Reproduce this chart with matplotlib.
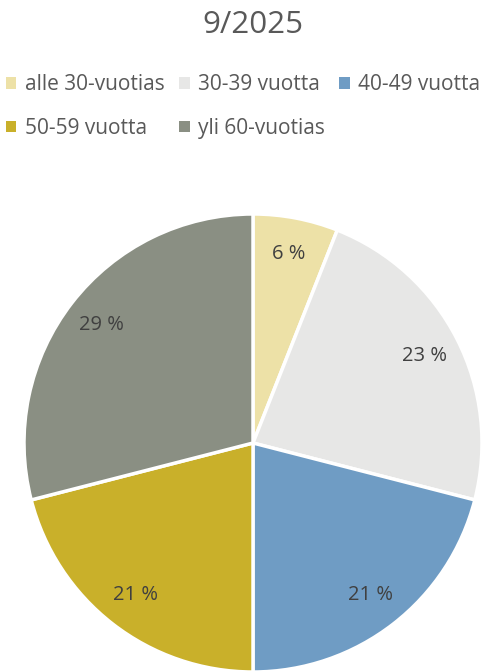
import matplotlib.pyplot as plt
from matplotlib.patches import Patch

labels = ['alle 30-vuotias', '30-39 vuotta', '40-49 vuotta', '50-59 vuotta', 'yli 60-vuotias']
values = [6, 23, 21, 21, 29]
colors = ['#EDE1A7', '#E7E7E6', '#6F9CC4', '#C9B02A', '#8A8F83']
title = '9/2025'

plt.rcParams['font.family'] = ['Open Sans', 'DejaVu Sans']
text_color = '#595959'

fig = plt.figure(figsize=(4.94, 6.71), dpi=100)
ax = fig.add_axes([24 / 494, -1 / 671, 458 / 494, 458 / 671])

wedges, texts = ax.pie(
    values, colors=colors, startangle=90, counterclock=False,
    labels=[f'{v} %' for v in values], labeldistance=0.84,
    wedgeprops=dict(edgecolor='white', linewidth=2.5),
    textprops=dict(color='#404040', fontsize=14.5, ha='center', va='center'),
)
ax.set_xlim(-1, 1)
ax.set_ylim(-1, 1)
ax.set_aspect('equal')

fig.text(0.512, 1 - 25 / 671, title, ha='center', va='center', fontsize=22.5, color=text_color)

# reorder so legend fills row by row
order = [0, 3, 1, 4, 2]
handles = [Patch(facecolor=colors[i], edgecolor='none') for i in order]
fig.legend(handles, [labels[i] for i in order], ncol=3, frameon=False,
           loc='upper left', bbox_to_anchor=(6 / 494, 1 - 74 / 671),
           borderpad=0, borderaxespad=0,
           fontsize=15, labelcolor=text_color, handlelength=0.5, handleheight=0.5,
           handletextpad=0.4, columnspacing=0.7, labelspacing=1.1)

fig.savefig('out.png', dpi=100)
